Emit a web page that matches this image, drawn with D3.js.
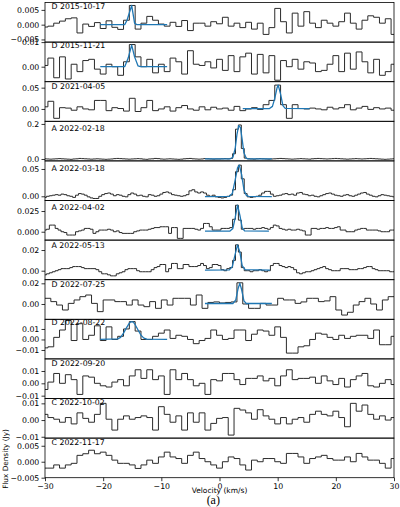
<!DOCTYPE html>
<html><head><meta charset="utf-8">
<script src="https://cdn.jsdelivr.net/npm/d3@7"></script>
<style>html,body{margin:0;padding:0;background:#fff}</style>
</head><body><svg id="c" width="400" height="507"></svg>
<script>
// ---------- DATA (flux in mJy, velocity in km/s) ----------
const panelLabels = ["D 2015-10-17","D 2015-11-21","D 2021-04-05","A 2022-02-18","A 2022-03-18","A 2022-04-02",
  "A 2022-05-13","D 2022-07-25","D 2022-08-22","D 2022-09-20","C 2022-10-02","C 2022-11-17"];
const specStart = [-30,-30,-30,-30,-30,-30,-30,-29.5,-30,-30,-30,-30];
const specStep  = [1,1,1,0.5,0.5,0.5,0.5,1,1,1,1,1];

const spec1 = [-0.8,-0.5,0.5,1.2,2.0,2.3,-2.8,0.2,-0.6,0.7, -1.3,1.3,-0.9,-1.6,1.5,6.5,-1.5,0.5,2.8,1.5, 0.2,-0.5,0.8,-0.6,1.4,-2.0,0.5,
  0.5,-0.5,1.0,0.3,2.5,-0.5,0.5,-1.0,0.8,-1.5, 0.5,-3.3,-1.0,5.5,1.0,-2.8,3.9,-0.5,4.4,0.5, -1.0,1.5,0.5,-0.5,1.0,3.9,0.5,-1.5,1.5,3.0, 2.5,0.5,2.0,-3.3];
const spec2 = [0.5,3.5,-4.5,4.0,-5.0,1.0,-2.0,2.5,3.0,-1.0, -3.0,1.0,0.0,-3.5,2.0,9.0,4.0,0.0,3.0,-2.5, 1.0,-2.0,3.5,2.0,-3.0,6.5,1.0,
  0.5,2.0,-0.5,3.0,-1.5,4.5,-2.0,4.0,5.5,-3.0, 5.0,-2.5,4.5,-5.5,2.5,0.0,3.0,-1.0,2.0,1.5, -2.0,-1.5,1.0,4.5,-2.0,5.5,-1.0,6.0,2.0,-2.5, 3.0,-3.5,-2.0,1.0];
const spec3 = [5,18,-22,3,2,-3,5,0,-2,20, 20,-4,3,1,-5,25,-6,3,20,-4, 0,5,-5,3,8,0,-3,
  5,-2,4,0,2,-3,6,-4,0,3, -1,10,20,56,10,-22,10,1,0,2, 0,-2,4,0,3,10,-2,2,6,-1, 3,0,2,-3];
const spec4 = [1,0,-1,0,1,2,1,0,-1,-2, 0,1,3,2,1,0,-1,0,1,0, -1,-2,-1,0,2,3,2,1,0,-1, 0,1,2,1,-1,-2,0,1,3,2, 0,-1,0,1,0,-1,-2,-1,1,2, 3,1,0,-1,0,2,1,0,-1,0,
  0,1,2,1,3,30,170,194,60,5, 1,0,-1,1,2,1,0,-1,0,1, 2,3,2,1,0,-1,0,1,2,1, 0,-1,1,2,3,2,1,0,1,2, 3,2,1,0,-1,0,1,2,1,0, 1,2,3,2,1,0,-1,-2,-1,0, 1];
const spec5 = [-2,0,1,2,3,2,4,3,1,0, -2,2,5,4,2,-1,-3,-4,-4,0, 3,5,6,4,1,3,2,0,-1,3, 6,4,1,2,0,-1,3,2,0,1, 4,7,8,6,3,2,1,0,1,3, 10,12,8,6,
  8,6,2,0,2,-1,-2,-3,-2,0, 2,12,45,57,32,5,-1,-2,-1,0, 2,6,9,9,4,0,1,2,4,5, 3,4,2,6,7,4,3,1,2,0, -1,1,3,5,6,4,2,1,0,2, 3,1,0,2,4,6,7,4,2,0, -1,1,3,2,1,0,-1];
const spec6 = [2,3,8,8,4,2,0,-1,-4,-4, -4,0,1,2,4,4,3,-2,0,2, 2,2,3,2,0,1,-1,-2,-2,-2, -2,0,1,2,2,2,3,4,5,5, 6,6,6,-2,5,5,-8,-8,4,4, 4,4,3,2,
  4,10,10,6,2,2,2,4,4,4, 5,15,32,14,3,4,4,4,3,4, 4,5,4,3,5,8,7,4,3,2, 3,2,2,3,2,1,-4,-4,4,4, 3,4,4,5,4,4,5,6,2,2, 0,0,0,2,3,4,4,2,2,2, 2,1,0,0,0,2,2];
const spec7 = [-4,-3,-2,-1,0,1,2,2,2,3, 4,4,4,3,2,2,2,2,1,-1, -3,-3,-4,-5,-5,-3,-2,-1,1,2, 2,2,0,-1,-1,-1,-1,1,3,4, 6,6,-1,2,7,7,2,2,6,6, 4,4,4,5,
  7,5,2,3,6,6,5,1,0,2, 3,10,25,18,3,0,0,-1,0,0, 1,0,-1,0,5,7,7,5,4,3, 4,3,1,-2,-3,-2,-1,-1,0,1, 2,3,4,2,1,0,0,0,2,2, 2,1,1,1,2,2,3,4,4,2, 1,0,0,0,0,-1,-1];
const spec8 = [5.5,2.3,-1,-5.8,0.6,3.9,7.1,8.7,0.6,-7.4, 3.9,3.9,2.3,2.3,-1,3.9,-1,-2.6,2.3,-4.2, 3.9,-1,5.5,5.5,5.5,-1,8.7,
  -4.2,1.5,2,1,1.5,2,20.5,0,-4.2,-4.2, 0.6,-1,-1,5.5,3.9,3.9,0.6,2,5.5,5.5, 2.3,3,7.1,-5.8,-10.7,-8,-1,2.3,5.5,0, -5.8,3.9,7.1];
const spec9 = [-8,-7,2,9,18,-1,15,0,4,13, -1,12,0,3,10,17,8,0,0,3, 6,9,1,4,3,0,-4,
  -1,1,9,4,0,1,9,9,-1,5, 9,8,4,12,2,-13,-13,-7,-6,0, 6,5,2,0,4,1,3,4,4,1, 9,-5,-5,3];
const spec10 = [-5,1,8,0,7,3,-9,6,5,0, -2,-3,1,3,-2,6,11,4,11,3, 6,-9,11,3,8,3,-2,
  0,-9,3,2,8,8,3,-1,4,4, 6,2,4,-2,6,11,3,4,4,5, 0,6,2,-1,4,-3,3,6,8,-2, -3,0,3,-1];
const spec11 = [3.4,1.5,0.5,-1.3,1.5,-2.3,4.3,1.0,-1.3,3.4, 10,0.5,-6,0.5,2.5,0.5,1.5,2.5,1.5,-6, 8,3.4,-1.3,2.5,-6,4.3,-1.3,
  4.3,-6,-2,1,1.5,-9,7,6,4.3,0.5, 6.2,2.5,0.5,-2.3,1.5,-2.3,0.5,1.5,-1.3,3.4, 5.3,3.4,2.5,5.3,1.5,-4,10,5.3,9,3.4, 0.5,2.5,0,1.5];
const spec12 = [-2,-2,-1,-2,-1,-0.5,2,2.5,3.6,2.5, 3,2,0.5,-0.5,-0.5,-1,-2.1,-1,0.5,-0.5, 1.5,3,1.5,1,-0.5,2,3,
  1,0,-1,-2,0,1.5,1,-1,-2.6,0.5, 0,1,1,0,-0.5,2.6,2.6,1.5,-0.5,1, 1.5,2,1,0.5,0.5,1.5,0,2.6,1.5,0.5, 0.5,-0.5,-2,1];
const spectra = [spec1,spec2,spec3,spec4,spec5,spec6,spec7,spec8,spec9,spec10,spec11,spec12];

// Gaussian fit curves, [velocity, mJy]
const fit1 = [[-20.5,0],[-16.3,0],[-15.9,1.5],[-15.1,6.5],[-14.6,0.5],[-14.2,0],[-9,0]];
const fit2 = [[-20.5,0],[-16.3,0],[-15.7,3.5],[-15.1,8.8],[-14.6,4],[-14,0.3],[-13.6,0],[-9,0]];
const fit3 = [[4,1],[8.6,1],[9.1,6],[9.5,25],[9.9,50],[10.1,56],[10.5,35],[10.9,8],[11.3,1.5],[15.5,1]];
const fit4 = [[-2.5,0],[1.8,0],[2.3,10],[2.7,60],[3.0,140],[3.3,190],[3.6,180],[3.9,110],[4.2,35],[4.6,4],[5,0],[9,0]];
const fit5 = [[-2.5,-0.5],[1.7,0],[2.2,5],[2.7,30],[3.1,52],[3.4,57],[3.8,40],[4.2,12],[4.6,2],[5,0],[9,-0.5]];
const fit6 = [[-2.5,0.8],[1.8,0.8],[2.3,4],[2.7,17],[3.1,32],[3.5,20],[3.9,5],[4.3,1],[8.5,0.8]];
const fit7 = [[-2.5,0.6],[1.7,0.8],[2.2,4],[2.7,16],[3.1,25],[3.5,18],[3.9,5],[4.4,1],[8.7,0.6]];
const fit8 = [[-2.5,0.5],[2.3,0.5],[2.8,4],[3.2,15],[3.5,20],[3.8,14],[4.2,3],[4.6,0.5],[9,0.5]];
const fit9 = [[-20.5,0],[-17.5,0.5],[-17,2],[-16.5,6],[-16,11],[-15.5,15.5],[-15.2,17],[-14.8,16.5],[-14.5,14],[-14,9],[-13.5,4],[-13,1.3],[-12.5,0.3],[-9,0]];
const fits = [fit1,fit2,fit3,fit4,fit5,fit6,fit7,fit8,fit9,null,null,null];

// axis limits (Jy) and ticks
const yDomains = [[-0.0059,0.0075],[-0.0061,0.0100],[-0.029,0.064],[-0.011,0.215],[-0.0077,0.0648],[-0.0101,0.0377],
  [-0.0087,0.0296],[-0.0148,0.0235],[-0.0185,0.0192],[-0.0123,0.0198],[-0.0108,0.0129],[-0.005,0.0074]];
const yTicks = [[-0.005,0,0.005],[0,0.01],[0,0.05],[0,0.2],[0,0.05],[0,0.025],[0,0.02],[0,0.02],[-0.01,0,0.01],[-0.01,0,0.01],[-0.01,0,0.01],[-0.005,0,0.005]];
const yFormats = [".3f",".2f",".2f",".1f",".2f",".3f",".2f",".2f",".2f",".2f",".2f",".3f"];
const xTicks = [-30,-20,-10,0,10,20,30];
const xDomain = [-30,30];

// ---------- LAYOUT ----------
const L=45, R=394, T=2.5, B=477.7, N=12, ph=(B-T)/N;
const labelBaseline = [6.8,6.2,7.6,9.7,9.8,9.5,8.2,7.6,5.7,7,6.5,7];
const FONT = "DejaVu Sans";

const svg = d3.select("#c");
const x = d3.scaleLinear().domain(xDomain).range([L,R]);
const defs = svg.append("defs");

spectra.forEach((vals,i)=>{
  const y0 = T + i*ph, y1 = y0 + ph;
  const y = d3.scaleLinear().domain(yDomains[i]).range([y1,y0]);
  const g = svg.append("g");
  defs.append("clipPath").attr("id","cp"+i).append("rect")
    .attr("x",L).attr("y",y0).attr("width",R-L).attr("height",ph);
  const step = specStep[i], s0 = specStart[i];
  const pts = vals.map((v,k)=>[s0 - step/2 + k*step, v/1000]);
  pts.push([s0 - step/2 + vals.length*step, vals[vals.length-1]/1000]);
  const line = d3.line().x(d=>x(d[0])).y(d=>y(d[1]));
  g.append("path").attr("clip-path",`url(#cp${i})`)
    .attr("d", line.curve(d3.curveStepAfter)(pts))
    .attr("fill","none").attr("stroke","#2b2b2b").attr("stroke-width",1);
  if (fits[i]) {
    g.append("path").attr("clip-path",`url(#cp${i})`)
      .attr("d", d3.line().x(d=>x(d[0])).y(d=>y(d[1]/1000))(fits[i]))
      .attr("fill","none").attr("stroke","#1f77b4").attr("stroke-width",1.3)
      .attr("stroke-linejoin","round");
  }
  g.append("rect").attr("x",L).attr("y",y0).attr("width",R-L).attr("height",ph)
    .attr("fill","none").attr("stroke","#000").attr("stroke-width",0.8);
  const ax = g.append("g").attr("transform",`translate(${L},0)`)
    .call(d3.axisLeft(y).tickValues(yTicks[i]).tickFormat(d3.format(yFormats[i])).tickSize(3.5).tickPadding(2.2));
  ax.select(".domain").remove();
  ax.attr("font-family",FONT).attr("font-size",7.8);
  ax.selectAll("line").attr("stroke","#000").attr("stroke-width",0.8);
  ax.selectAll("text").attr("fill","#000");
  g.append("text").attr("x",L+6.5).attr("y",y0+labelBaseline[i])
    .attr("font-family",FONT).attr("font-size",7.8).attr("fill","#000").text(panelLabels[i]);
});

const xa = svg.append("g").attr("transform",`translate(0,${B})`)
  .call(d3.axisBottom(x).tickValues(xTicks).tickFormat(d3.format("d")).tickSize(3.5).tickPadding(2));
xa.select(".domain").remove();
xa.attr("font-family",FONT).attr("font-size",7.8);
xa.selectAll("line").attr("stroke","#000").attr("stroke-width",0.8);
xa.selectAll("text").attr("fill","#000");

svg.append("text").attr("x",(L+R)/2).attr("y",492.5).attr("text-anchor","middle")
  .attr("font-family",FONT).attr("font-size",7.5).attr("fill","#000").text("Velocity (km/s)");
svg.append("text").attr("transform","translate(7.5,459) rotate(-90)").attr("text-anchor","middle")
  .attr("font-family",FONT).attr("font-size",7.3).attr("fill","#000").text("Flux Density (Jy)");
svg.append("text").attr("x",213.3).attr("y",504).attr("text-anchor","middle")
  .attr("font-family","Liberation Serif").attr("font-size",12).attr("fill","#000").text("(a)");
</script></body></html>
